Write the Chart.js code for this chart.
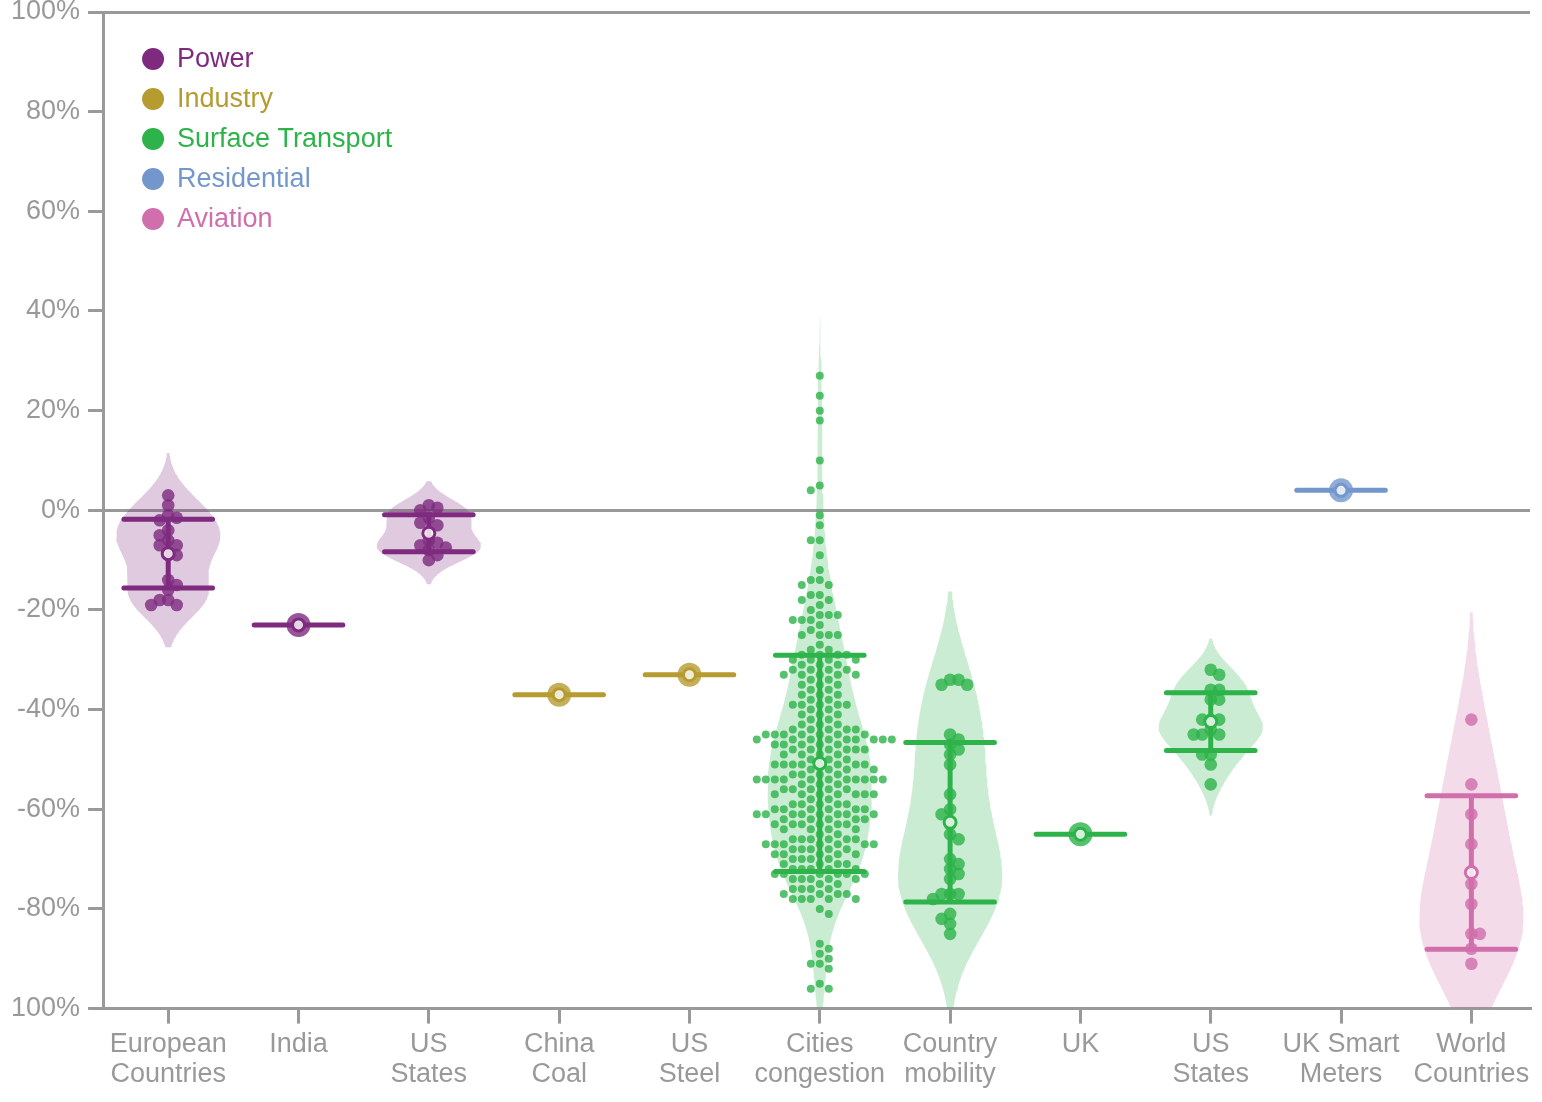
<!DOCTYPE html>
<html>
<head>
<meta charset="utf-8">
<script src="https://cdn.jsdelivr.net/npm/chart.js@4.4.1/dist/chart.umd.min.js"></script>
<style>
  html, body { margin: 0; padding: 0; background: #fff; }
  #chart { display: block; }
</style>
</head>
<body>
<canvas id="chart" width="1542" height="1102"></canvas>
<script>
// category labels (x axis) and the sector each one belongs to
const categories = [
  ['European', 'Countries'], ['India'], ['US', 'States'], ['China', 'Coal'], ['US', 'Steel'],
  ['Cities', 'congestion'], ['Country', 'mobility'], ['UK'], ['US', 'States'], ['UK Smart', 'Meters'],
  ['World', 'Countries']
];
const categorySector = [0, 0, 0, 1, 1, 2, 2, 2, 2, 3, 4];
const sectors = ['Power', 'Industry', 'Surface Transport', 'Residential', 'Aviation'];
const sectorColors = ['#7e2a7f', '#b69b31', '#2db34a', '#7397cc', '#d06fab'];

// individual estimates, % change in emissions
const europeanCountries = [3, 1, -1, -1.5, -2, -4, -5, -6, -7, -7, -8.5, -9, -14, -15, -16, -18, -19, -19, -18];
const india = [-23];
const usStatesPower = [1, 0.5, 0, -1.5, -2.5, -3, -6, -6.5, -7, -7.5, -8, -9, -10];
const chinaCoal = [-37];
const usSteel = [-33];
const citiesLevels = [27, 23, 20, 18, 10, 5, 4, -1, -3, -6, -9, -12, -14, -15, -17, -18, -19, -20,
  -21, -22, -23, -24, -25, -27, -28, -29, -30, -31, -32, -33, -34, -35, -36, -37, -38, -39, -40,
  -41, -42, -43, -44, -45, -46, -47, -48, -49, -50, -51, -52, -53, -54, -55, -56, -57, -58, -59,
  -60, -61, -62, -63, -64, -65, -66, -67, -68, -69, -70, -71, -72, -73, -74, -75, -76, -77, -78,
  -80, -81, -87, -88, -89, -90, -91, -92, -95, -96];
const citiesCounts = [1, 1, 1, 1, 1, 1, 1, 1, 1, 2, 1, 1, 2, 2, 2, 2, 1, 1,
  3, 3, 1, 1, 4, 1, 2, 4, 4, 3, 4, 5, 2, 3, 2, 3, 2, 5, 2,
  3, 2, 3, 5, 7, 9, 5, 6, 4, 3, 8, 4, 4, 11, 3, 5, 7, 2, 5,
  6, 8, 5, 6, 4, 2, 6, 7, 5, 5, 4, 4, 5, 6, 5, 2, 4, 4, 5,
  1, 1, 1, 1, 1, 1, 2, 1, 1, 2];
const countryMobility = [-34, -35, -35, -34, -45, -46, -47, -48, -49, -51, -57, -60, -61, -63, -65, -66,
  -70, -71, -72, -73, -74, -77, -77, -77, -78, -81, -83, -82, -85];
const uk = [-65];
const usStatesTransport = [-32, -33, -36, -36, -38, -38, -42, -42, -42, -44, -45, -45, -45, -49, -49, -51, -55];
const ukSmartMeters = [4];
const worldCountries = [-42, -55, -61, -67, -75, -79, -85, -85, -88, -91];

const means = [-8.7, -23, -4.6, -37, -33, -50.8, -62.6, -65, -42.4, 4, -72.7];
const sds = [6.9, 0, 3.7, 0, 0, 21.7, 16, 0, 5.8, 0, 15.4];

const FONT = "'Liberation Sans', Arial, sans-serif";
const GREY = '#999999';

function rgba(hex, a) {
  const n = parseInt(hex.slice(1), 16);
  return 'rgba(' + (n >> 16) + ',' + ((n >> 8) & 255) + ',' + (n & 255) + ',' + a + ')';
}

function expand(levels, counts) {
  const out = [];
  levels.forEach((v, i) => { for (let k = 0; k < counts[i]; k++) out.push(v); });
  return out;
}

const groups = [europeanCountries, india, usStatesPower, chinaCoal, usSteel,
  expand(citiesLevels, citiesCounts), countryMobility, uk, usStatesTransport, ukSmartMeters, worldCountries];
const catColor = categorySector.map(s => sectorColors[s]);

// gaussian kde, silverman bandwidth, span +-2 bandwidths
function kdeOutline(vals) {
  const n = vals.length;
  const s = vals.slice().sort((a, b) => a - b);
  const mean = s.reduce((a, b) => a + b, 0) / n;
  const sd = Math.sqrt(s.reduce((a, b) => a + (b - mean) ** 2, 0) / (n - 1));
  const q = p => { const h = (n - 1) * p, lo = Math.floor(h); return s[lo] + (h - lo) * (s[Math.min(lo + 1, n - 1)] - s[lo]); };
  const iqr = q(0.75) - q(0.25);
  const spread = iqr > 0 ? Math.min(sd, iqr / 1.349) : sd;
  const bw = 1.059 * spread * Math.pow(n, -0.2);
  const lo = s[0] - 2 * bw, hi = s[n - 1] + 2 * bw;
  const pts = [];
  let peak = 0;
  for (let k = 0; k <= 160; k++) {
    const y = lo + (hi - lo) * k / 160;
    let d = 0;
    for (const v of s) d += Math.exp(-0.5 * ((y - v) / bw) ** 2);
    pts.push({ y, d });
    peak = Math.max(peak, d);
  }
  pts.forEach(p => { p.d /= peak; });
  return pts;
}

const VIOLIN_HALF = 0.4;
const BAR_HALF = 0.34;
const datasets = [];

// violins
groups.forEach((vals, i) => {
  if (vals.length < 2) return;
  const k = kdeOutline(vals);
  const right = k.map(p => ({ x: i + VIOLIN_HALF * p.d, y: p.y }));
  const left = k.slice().reverse().map(p => ({ x: i - VIOLIN_HALF * p.d, y: p.y }));
  datasets.push({
    type: 'line', data: right.concat(left), order: 3,
    fill: 'shape', backgroundColor: rgba(catColor[i], 0.25),
    borderColor: 'rgba(0,0,0,0)', borderWidth: 0, pointRadius: 0, tension: 0
  });
});

// dots (x offsets filled in once the scales exist)
const dotSets = groups.map((vals, i) => {
  const ds = {
    type: 'scatter', data: vals.map(v => ({ x: i, y: v })), order: 2,
    backgroundColor: rgba(catColor[i], 0.8), borderWidth: 0,
    pointRadius: vals.length === 1 ? 12 : (vals.length > 100 ? 4 : 6.3)
  };
  datasets.push(ds);
  return ds;
});

// mean +- sd bars
means.forEach((m, i) => {
  const top = m + sds[i], bot = m - sds[i];
  datasets.push({
    type: 'line', order: 1, spanGaps: false,
    data: [
      { x: i - BAR_HALF, y: top }, { x: i + BAR_HALF, y: top }, { x: i, y: null },
      { x: i - BAR_HALF, y: bot }, { x: i + BAR_HALF, y: bot }, { x: i, y: null },
      { x: i, y: top }, { x: i, y: bot }
    ],
    borderColor: catColor[i], borderWidth: 5, borderCapStyle: 'round',
    pointRadius: 0, fill: false, tension: 0
  });
});

// mean markers
datasets.push({
  type: 'scatter', order: 0,
  data: means.map((m, i) => ({ x: i, y: m })),
  pointRadius: 6, pointBorderWidth: 3,
  pointBackgroundColor: 'rgba(255,255,255,0.8)', pointBorderColor: catColor
});

const sectorLegend = {
  id: 'sectorLegend',
  afterDraw(chart) {
    const { ctx, chartArea } = chart;
    ctx.save();
    ctx.font = '27px ' + FONT;
    ctx.textBaseline = 'middle';
    sectors.forEach((s, i) => {
      const cy = chartArea.top + 47 + i * 40;
      ctx.fillStyle = sectorColors[i];
      ctx.beginPath();
      ctx.arc(chartArea.left + 50, cy, 11, 0, Math.PI * 2);
      ctx.fill();
      ctx.fillText(s, chartArea.left + 74, cy + 1);
    });
    ctx.restore();
  }
};

const chart = new Chart(document.getElementById('chart'), {
  type: 'scatter',
  data: { datasets },
  options: {
    responsive: false,
    animation: false,
    layout: { padding: { left: 3, right: 6, top: 8, bottom: 7 } },
    plugins: { legend: { display: false }, tooltip: { enabled: false } },
    scales: {
      x: {
        type: 'linear', min: -0.5, max: 10.45,
        afterBuildTicks: s => { s.ticks = categories.map((c, i) => ({ value: i })); },
        afterFit: s => { s.paddingLeft = 0; s.paddingRight = 0; },
        ticks: {
          color: GREY, font: { size: 27, family: FONT, lineHeight: 1.1 }, padding: 6,
          maxRotation: 0, autoSkip: false, callback: v => categories[v]
        },
        grid: { drawOnChartArea: false, color: GREY, tickColor: GREY, tickLength: 15, lineWidth: 3 },
        border: { color: GREY, width: 3 }
      },
      y: {
        min: -100, max: 100,
        afterFit: s => { s.paddingTop = 0; s.paddingBottom = 0; },
        ticks: {
          stepSize: 20, color: GREY, font: { size: 27, family: FONT }, padding: 8,
          callback: v => (Math.abs(v) === 100 ? '100' : v) + '%'
        },
        grid: {
          color: c => (c.tick && (c.tick.value === 0 || c.tick.value === 100)) ? GREY : 'rgba(0,0,0,0)',
          lineWidth: 3, tickColor: GREY, tickLength: 15, tickWidth: 3
        },
        border: { color: GREY, width: 3 }
      }
    }
  },
  plugins: [sectorLegend]
});

// beeswarm: push each dot sideways to the nearest free slot
function swarmOffsets(vals, toPx, minDist, step) {
  const order = vals.map((v, i) => i).sort((a, b) => vals[b] - vals[a]);
  const placed = [], off = new Array(vals.length);
  order.forEach((idx, n) => {
    const py = toPx(vals[idx]);
    const sign = n % 2 ? 1 : -1;
    for (let k = 0; off[idx] === undefined; k++) {
      const cands = k === 0 ? [0] : [sign * k * step, -sign * k * step];
      for (const c of cands) {
        if (placed.every(p => Math.hypot(p.x - c, p.y - py) >= minDist)) {
          placed.push({ x: c, y: py });
          off[idx] = c;
          break;
        }
      }
    }
  });
  return off;
}

const xs = chart.scales.x, ys = chart.scales.y;
const pxPerX = xs.getPixelForValue(1) - xs.getPixelForValue(0);
dotSets.forEach((ds, i) => {
  const vals = groups[i];
  const small = vals.length > 100;
  const off = swarmOffsets(vals, v => ys.getPixelForValue(v), small ? 8.8 : 8.5, small ? 9 : 8.5);
  ds.data = vals.map((v, k) => ({ x: i + off[k] / pxPerX, y: v }));
});
chart.update('none');
</script>
</body>
</html>
